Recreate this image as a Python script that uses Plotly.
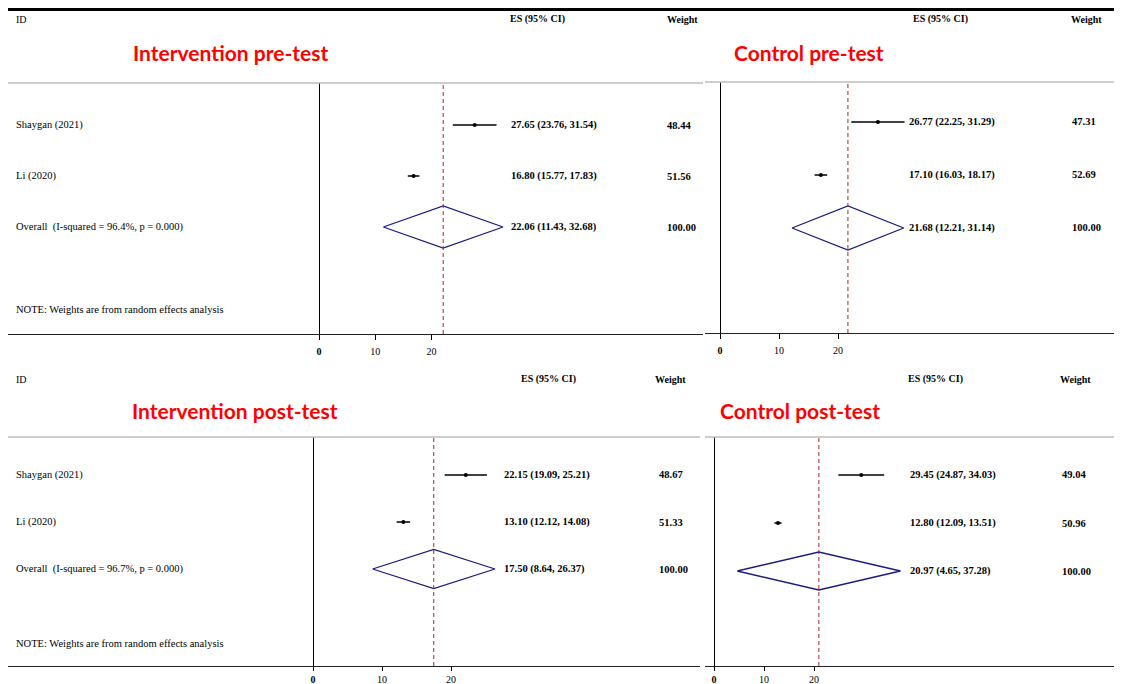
import plotly.graph_objects as go

W, H = 1122, 684
OX, OY = 8, 8  # page body margin offset

# ---------------- data ----------------
studies = ["Shaygan (2021)", "Li (2020)"]

panel_names = ["Intervention pre-test", "Control pre-test",
               "Intervention post-test", "Control post-test"]

int_pre_es = [27.65, 16.80]
int_pre_lo = [23.76, 15.77]
int_pre_hi = [31.54, 17.83]
int_pre_w = [48.44, 51.56]
int_pre_overall = [22.06, 11.43, 32.68]
int_pre_i2 = 96.4

ctrl_pre_es = [26.77, 17.10]
ctrl_pre_lo = [22.25, 16.03]
ctrl_pre_hi = [31.29, 18.17]
ctrl_pre_w = [47.31, 52.69]
ctrl_pre_overall = [21.68, 12.21, 31.14]

int_post_es = [22.15, 13.10]
int_post_lo = [19.09, 12.12]
int_post_hi = [25.21, 14.08]
int_post_w = [48.67, 51.33]
int_post_overall = [17.50, 8.64, 26.37]
int_post_i2 = 96.7

ctrl_post_es = [29.45, 12.80]
ctrl_post_lo = [24.87, 12.09]
ctrl_post_hi = [34.03, 13.51]
ctrl_post_w = [49.04, 50.96]
ctrl_post_overall = [20.97, 4.65, 37.28]

tick_vals = [0, 10, 20]
tick_text = ["<b>0</b>", "10", "20"]

# ---------------- layout geometry (screen pixels) ----------------
panels = [
    dict(name=panel_names[0], es=int_pre_es, lo=int_pre_lo, hi=int_pre_hi, w=int_pre_w,
         ov=int_pre_overall, i2=int_pre_i2,
         x0=8, x1=703, zero=319, ppu=5.63, ytop=83, yaxis=334, rows=(125, 176), dh=21,
         es_x=509, w_x=665, hdr_es=537, hdr_w=682, hdr_y=19, title_x=230, title_y=52,
         labels=True, note_y=309, standoff=3, ticklen=5),
    dict(name=panel_names[1], es=ctrl_pre_es, lo=ctrl_pre_lo, hi=ctrl_pre_hi, w=ctrl_pre_w,
         ov=ctrl_pre_overall, i2=None,
         x0=705, x1=1122, zero=720, ppu=5.9, ytop=82, yaxis=333, rows=(122, 175), dh=22,
         es_x=907, w_x=1070, hdr_es=940, hdr_w=1086, hdr_y=19, title_x=809, title_y=52,
         labels=False, note_y=None, standoff=3, ticklen=5),
    dict(name=panel_names[2], es=int_post_es, lo=int_post_lo, hi=int_post_hi, w=int_post_w,
         ov=int_post_overall, i2=int_post_i2,
         x0=8, x1=700, zero=313, ppu=6.9, ytop=437, yaxis=666, rows=(475, 522), dh=19.5,
         es_x=502, w_x=657, hdr_es=548, hdr_w=670, hdr_y=379, title_x=235, title_y=410,
         labels=True, note_y=643, standoff=0, ticklen=4),
    dict(name=panel_names[3], es=ctrl_post_es, lo=ctrl_post_lo, hi=ctrl_post_hi, w=ctrl_post_w,
         ov=ctrl_post_overall, i2=None,
         x0=705, x1=1122, zero=714, ppu=5.0, ytop=437, yaxis=666, rows=(475, 523), dh=19,
         es_x=908, w_x=1060, hdr_es=935, hdr_w=1075, hdr_y=379, title_x=800, title_y=410,
         labels=False, note_y=None, standoff=0, ticklen=4),
]

SERIF = "Liberation Serif, Times New Roman, serif"
NAVY = "#1a1a80"
DRED = "#a5282e"


def pxx(px):
    return min(max((px - OX) / W, 0), 1)


def pxy(py):
    return min(max(1 - (py - OY) / H, 0), 1)


fig = go.Figure()
annotations = []
shapes = []
layout_axes = {}

# thick top rule
shapes.append(dict(type="line", xref="paper", yref="paper", x0=0, x1=1,
                   y0=pxy(9.5), y1=pxy(9.5), line=dict(color="black", width=3)))

for i, p in enumerate(panels):
    n = i + 1
    xa = "x" if n == 1 else f"x{n}"
    ya = "y" if n == 1 else f"y{n}"
    xkey = "xaxis" if n == 1 else f"xaxis{n}"
    ykey = "yaxis" if n == 1 else f"yaxis{n}"

    x0s = max(p["x0"], OX)
    x1s = min(p["x1"], W + OX)
    xr = [(x0s - p["zero"]) / p["ppu"], (x1s - p["zero"]) / p["ppu"]]
    layout_axes[xkey] = dict(
        domain=[pxx(x0s), pxx(x1s)], range=xr, anchor=ya,
        showgrid=False, zeroline=True, zerolinecolor="black", zerolinewidth=1,
        showline=True, linecolor="#222", linewidth=1,
        ticks="outside", ticklen=p["ticklen"], tickcolor="black", tickwidth=1,
        tickvals=tick_vals, ticktext=tick_text, ticklabelstandoff=p["standoff"],
        tickfont=dict(family=SERIF, size=10, color="black"),
        fixedrange=True,
    )
    k = p["rows"][1] - p["rows"][0]
    y_top = 1 - (p["rows"][0] - p["ytop"]) / k
    y_bot = 1 + (p["yaxis"] - p["rows"][0]) / k
    layout_axes[ykey] = dict(
        domain=[pxy(p["yaxis"]), pxy(p["ytop"])], range=[y_bot, y_top], anchor=xa,
        visible=False, fixedrange=True,
    )

    rows = [1, 2]
    for es, lo, hi, r in zip(p["es"], p["lo"], p["hi"], rows):
        fig.add_trace(go.Scatter(x=[lo, hi], y=[r, r], mode="lines",
                                 line=dict(color="black", width=1.5),
                                 xaxis=xa, yaxis=ya, showlegend=False, hoverinfo="skip"))
    fig.add_trace(go.Scatter(x=p["es"], y=rows, mode="markers",
                             marker=dict(color="black", size=4),
                             xaxis=xa, yaxis=ya, showlegend=False))

    ov_es, ov_lo, ov_hi = p["ov"]
    dh = p["dh"] / k
    fig.add_trace(go.Scatter(x=[ov_lo, ov_es, ov_hi, ov_es, ov_lo],
                             y=[3, 3 - dh, 3, 3 + dh, 3], mode="lines",
                             line=dict(color=NAVY, width=1.3),
                             xaxis=xa, yaxis=ya, showlegend=False, hoverinfo="skip"))

    shapes.append(dict(type="line", xref=xa, yref=f"{ya} domain",
                       x0=ov_es, x1=ov_es, y0=0, y1=1,
                       line=dict(color=DRED, width=1, dash="4px,3px")))

    shapes.append(dict(type="line", xref="paper", yref="paper",
                       x0=pxx(x0s), x1=pxx(x1s),
                       y0=pxy(p["ytop"]), y1=pxy(p["ytop"]),
                       line=dict(color="#bdbdbd", width=1.5)))

    annotations.append(dict(xref="paper", yref="paper", x=pxx(p["hdr_es"]), y=pxy(p["hdr_y"]),
                            text="<b>ES (95% CI)</b>", showarrow=False, xanchor="center",
                            yanchor="middle", font=dict(family=SERIF, size=10, color="black")))
    annotations.append(dict(xref="paper", yref="paper", x=pxx(p["hdr_w"]), y=pxy(p["hdr_y"]),
                            text="<b>Weight</b>", showarrow=False, xanchor="center",
                            yanchor="middle", font=dict(family=SERIF, size=10, color="black")))
    annotations.append(dict(xref="paper", yref="paper", x=pxx(p["title_x"]), y=pxy(p["title_y"]),
                            text=f"<b>{p['name']}</b>", showarrow=False, xanchor="center",
                            yanchor="middle", font=dict(family="Lato, Open Sans, sans-serif",
                                                        size=21, color="#ff0000")))

    es_texts = [f"{e:.2f} ({l:.2f}, {h:.2f})" for e, l, h in zip(p["es"], p["lo"], p["hi"])]
    es_texts.append(f"{ov_es:.2f} ({ov_lo:.2f}, {ov_hi:.2f})")
    w_texts = [f"{v:.2f}" for v in p["w"]] + [f"{sum(p['w']):.2f}"]
    for r, t, wt in zip([1, 2, 3], es_texts, w_texts):
        annotations.append(dict(xref="paper", yref=ya, x=pxx(p["es_x"]), y=r, text=f"<b>{t}</b>",
                                showarrow=False, xanchor="left", yanchor="middle",
                                font=dict(family=SERIF, size=10.5, color="black")))
        annotations.append(dict(xref="paper", yref=ya, x=pxx(p["w_x"]), y=r, text=f"<b>{wt}</b>",
                                showarrow=False, xanchor="left", yanchor="middle",
                                font=dict(family=SERIF, size=10.5, color="black")))

    if p["labels"]:
        annotations.append(dict(xref="paper", yref="paper", x=pxx(14), y=pxy(p["hdr_y"]),
                                text="ID", showarrow=False, xanchor="left", yanchor="middle",
                                font=dict(family=SERIF, size=10, color="black")))
        labels = studies + [f"Overall  (I-squared = {p['i2']}%, p = 0.000)"]
        for r, t in zip([1, 2, 3], labels):
            annotations.append(dict(xref="paper", yref=ya, x=pxx(14), y=r, text=t,
                                    showarrow=False, xanchor="left", yanchor="middle",
                                    font=dict(family=SERIF, size=10.5, color="black")))
        annotations.append(dict(xref="paper", yref="paper", x=pxx(14), y=pxy(p["note_y"]),
                                text="NOTE: Weights are from random effects analysis",
                                showarrow=False, xanchor="left", yanchor="middle",
                                font=dict(family=SERIF, size=10.5, color="black")))

fig.update_layout(
    width=W, height=H, margin=dict(l=0, r=0, t=0, b=0),
    paper_bgcolor="white", plot_bgcolor="white",
    showlegend=False, annotations=annotations, shapes=shapes,
    **layout_axes,
)

fig.write_html("out.html")
